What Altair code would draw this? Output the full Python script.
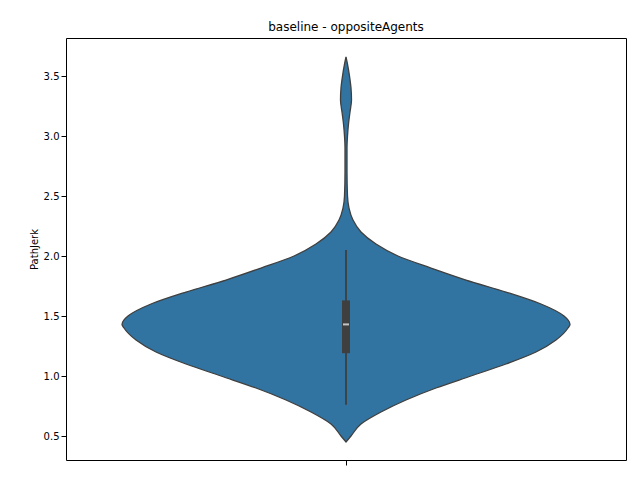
import altair as alt
import pandas as pd

# violin outline: PathJerk value and half-width (0.4 = widest)
ys = [0.45, 0.5, 0.6, 0.7, 0.8, 0.9, 1.0, 1.1, 1.2, 1.3, 1.4, 1.43, 1.5, 1.6, 1.7, 1.8,
      1.9, 2.0, 2.1, 2.2, 2.3, 2.4, 2.5, 2.7, 2.9, 3.0, 3.1, 3.2, 3.3, 3.4, 3.5, 3.6, 3.66]
half_px = [0, 5, 15, 35, 60, 90, 125, 160, 190, 210, 222, 224, 218, 195, 160, 120,
           85, 52, 30, 15, 7, 3, 1.5, 1, 1, 1.5, 2.5, 4, 5.5, 5, 3.5, 1.5, 0]
half = [h / 224 * 0.4 for h in half_px]

whisk_lo, q1, med, q3, whisk_hi = 0.76, 1.19, 1.43, 1.63, 2.05

FILL = "#3274a1"
EDGE = "#3f3f3f"

df = pd.DataFrame({"y": ys, "lo": [-h for h in half], "hi": half})
xs = alt.Scale(domain=[-0.5, 0.5], nice=False)
yscale = alt.Scale(domain=[0.3, 3.817], nice=False, zero=False)

violin = alt.Chart(df).mark_area(orient="horizontal", color=FILL, stroke=EDGE,
                                 strokeWidth=1.3, interpolate="monotone").encode(
    y=alt.Y("y:Q", scale=yscale, title="PathJerk",
            axis=alt.Axis(values=[0.5, 1.0, 1.5, 2.0, 2.5, 3.0, 3.5], format=".1f", grid=False)),
    x=alt.X("lo:Q", scale=xs, title=None,
            axis=alt.Axis(values=[0], labels=False, grid=False)),
    x2="hi:Q",
)

box = pd.DataFrame({"x": [0], "wl": [whisk_lo], "q1": [q1], "med": [med], "q3": [q3], "wh": [whisk_hi]})
whisker = alt.Chart(box).mark_rule(color=EDGE, strokeWidth=1.8).encode(
    x=alt.X("x:Q", scale=xs), y=alt.Y("wl:Q", scale=yscale), y2="wh:Q")
iqr = alt.Chart(box).mark_rule(color=EDGE, strokeWidth=8).encode(
    x=alt.X("x:Q", scale=xs), y=alt.Y("q1:Q", scale=yscale), y2="q3:Q")
median = alt.Chart(box).mark_tick(color="white", size=6, thickness=2, orient="horizontal").encode(
    x=alt.X("x:Q", scale=xs), y=alt.Y("med:Q", scale=yscale))

chart = (violin + whisker + iqr + median).properties(
    width=560, height=422,
    title=alt.TitleParams("baseline - oppositeAgents", fontSize=12, fontWeight="normal",
                          font="DejaVu Sans", color="black"),
    autosize=alt.AutoSizeParams(type="none"),
    padding={"left": 58, "top": 30, "right": 6, "bottom": 12},
).configure_view(stroke="black", strokeWidth=1).configure_axis(
    labelFont="DejaVu Sans", titleFont="DejaVu Sans", labelFontSize=10, titleFontSize=10,
    titleFontWeight="normal", labelColor="black", titleColor="black",
    domain=False, tickColor="black")

chart.save("out.html", embed_options={"renderer": "svg", "actions": False})
